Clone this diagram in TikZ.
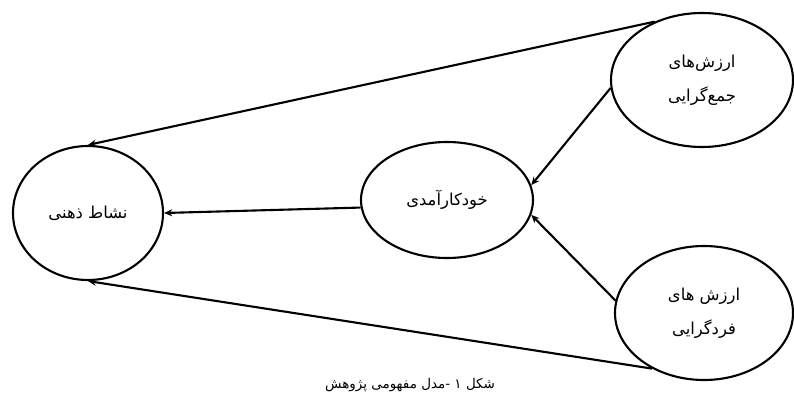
\documentclass[tikz,border=0pt]{standalone}
\usepackage{fontspec}
\usetikzlibrary{shapes.geometric,arrows.meta}
\TeXXeTstate=1
\newfontfamily\arabicfont[Script=Arabic]{DejaVu Sans}
\tikzset{
  concept/.style={ellipse,draw=black,line width=1.8pt,fill=white,inner sep=0pt,
    align=center,font=\arabicfont\fontsize{14}{29}\selectfont},
  link/.style={line width=1.8pt,-{Stealth[length=7pt,width=6pt]}},
  captiontext/.style={font=\arabicfont\fontsize{11.5}{14}\selectfont}
}
\begin{document}
\begin{tikzpicture}
\useasboundingbox (0,0) rectangle (23.82,-12.24);
\node[concept,minimum width=4.5cm,minimum height=4.02cm] (L) at (2.64,-6.39) {\beginR نشاط ذهنی\endR};
\node[concept,minimum width=5.16cm,minimum height=3.48cm] (M) at (13.41,-6.0) {\beginR خودکارآمدی\endR};
\node[concept,minimum width=5.46cm,minimum height=4.02cm] (TR) at (21.06,-2.4) {\beginR ارزش‌های\endR\\\beginR جمع‌گرایی\endR};
\node[concept,minimum width=5.34cm,minimum height=4.02cm] (BR) at (21.12,-9.39) {\beginR ارزش های\endR\\\beginR فردگرایی\endR};
\draw[link] (TR.129) -- (L.north);
\draw[link] (BR.227) -- (L.south);
\draw[link] (M.185) -- (L.east);
\draw[link] (TR.185) -- (M.10);
\draw[link] (BR.172) -- (M.-10);
\node[captiontext] (cap) at (12.3,-11.55) {\beginR شکل ۱ -مدل مفهومی پژوهش\endR};
\end{tikzpicture}
\end{document}
